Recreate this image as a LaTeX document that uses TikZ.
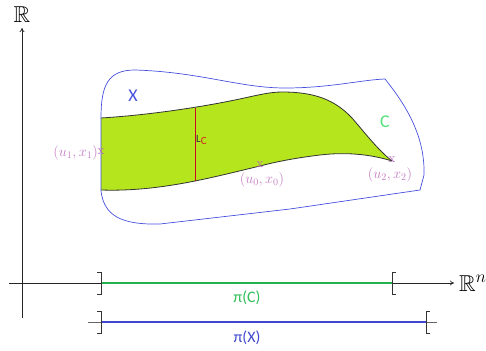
\documentclass[tikz,border=0pt]{standalone}
\usepackage{amsmath,amssymb}
\usepackage{fontspec}
\newfontfamily\labfont{Carlito}
\usetikzlibrary{arrows.meta}
\definecolor{cfill}{RGB}{181,230,29}
\definecolor{xblue}{RGB}{70,80,220}
\definecolor{mpurp}{RGB}{185,100,190}
\definecolor{lpurp}{RGB}{195,125,195}
\definecolor{sgreen}{RGB}{34,177,76}
\definecolor{sblue}{RGB}{63,72,204}
\definecolor{lgreen}{RGB}{80,225,120}
\definecolor{pgreen}{RGB}{50,190,90}
\definecolor{lcred}{RGB}{200,10,40}
\tikzset{
  axis/.style={draw=black!85,line width=0.7pt,-{To[length=4pt,width=5pt]}},
  xbound/.style={draw=xblue,line width=0.7pt},
  cbound/.style={draw=black!80,line width=0.8pt},
  brk/.style={draw=black!80,line width=0.8pt},
  crossm/.style={text=mpurp,font=\fontsize{13}{13}\selectfont,inner sep=0pt},
  mlab/.style={text=lpurp,font=\fontsize{14}{16}\selectfont,inner sep=1pt},
  slab/.style={font=\labfont\fontsize{16}{18}\selectfont,inner sep=1pt},
  blab/.style={font=\labfont\fontsize{18}{20}\selectfont,inner sep=1pt},
  bigR/.style={font=\fontsize{23}{25}\selectfont,inner sep=0pt}
}
\begin{document}
\begin{tikzpicture}[x=1pt,y=-1pt]
\useasboundingbox (0,0) rectangle (486,350);
% axes
\coordinate (vb) at (22,318);
\coordinate (vt) at (22,28);
\coordinate (hl) at (9,283);
\coordinate (hr) at (454,283);
\draw[axis] (vb) -- (vt);
\draw[axis] (hl) -- (hr);
\node[bigR] (Rv) at (22,15) {$\mathbb{R}$};
\node[bigR,anchor=west] (Rn) at (459,283) {$\mathbb{R}^n$};
% region C
\def\ctop{(101,118) .. controls (150,115) and (200,107) .. (230,101) .. controls (255,96) and (268,92) .. (282,92) .. controls (315,92) and (335,100) .. (352,118) .. controls (365,133) and (378,150) .. (392,161)}
\def\cbot{(392,161) .. controls (370,154) and (345,152) .. (320,155) .. controls (295,158) and (275,162) .. (260,166) .. controls (235,172) and (215,177) .. (195,181) .. controls (160,188) and (130,191) .. (101,190)}
\path[fill=cfill] \ctop -- \cbot -- cycle;
\draw[cbound] \ctop;
\draw[cbound] \cbot;
% boundary of X
\draw[xbound] (101,191) -- (101,118) .. controls (101,85) and (108,70) .. (135,70)
  .. controls (200,72) and (240,88) .. (285,88) .. controls (330,88) and (360,80) .. (385,79)
  .. controls (410,110) and (425,140) .. (424,175) -- (420,190) -- (290,209) -- (160,224)
  .. controls (120,225) and (104,215) .. (101,191);
% L_C
\coordinate (lct) at (195,108);
\coordinate (lcb) at (195,181);
\draw[draw=lcred,line width=0.75pt] (lct) -- (lcb);
\node[anchor=west,inner sep=0pt,font=\labfont\fontsize{11}{12}\selectfont] (LC) at (196,140) {\textcolor{black!80}{L}\raisebox{-2.5pt}{\textcolor{lcred!80!orange}{C}}};
% labels X, C
\node[blab,text=xblue] (Xl) at (133,96) {X};
\node[blab,text=lgreen] (Cl) at (385,122) {C};
% points
\node[crossm] (p1) at (101,152) {x};
\node[crossm] (p0) at (260,165) {x};
\node[crossm] (p2) at (392,160) {x};
\node[mlab,anchor=east] (l1) at (99,153) {$(u_1,x_1)$};
\node[mlab] (l0) at (262,180) {$(u_0,x_0)$};
\node[mlab] (l2) at (390,175) {$(u_2,x_2)$};
% projection of C
\coordinate (ca) at (101,283);
\coordinate (cb) at (392,283);
\draw[draw=sgreen,line width=2pt] (ca) -- (cb);
\draw[brk] ([xshift=-4pt,yshift=-11pt]ca) -- ([yshift=-11pt]ca) -- ([yshift=11pt]ca) -- ([xshift=-4pt,yshift=11pt]ca);
\draw[brk] ([xshift=4pt,yshift=-11pt]cb) -- ([yshift=-11pt]cb) -- ([yshift=11pt]cb) -- ([xshift=4pt,yshift=11pt]cb);
\node[slab,text=pgreen] (piC) at (247,298) {π(C)};
% projection of X
\coordinate (gl) at (88,322);
\coordinate (gr) at (437,322);
\coordinate (xa) at (101,322);
\coordinate (xbb) at (426,322);
\draw[draw=black!60,line width=0.8pt] (gl) -- (gr);
\draw[draw=sblue,line width=2pt] (xa) -- (xbb);
\draw[brk] ([xshift=-4pt,yshift=-11pt]xa) -- ([yshift=-11pt]xa) -- ([yshift=11pt]xa) -- ([xshift=-4pt,yshift=11pt]xa);
\draw[brk] ([xshift=4pt,yshift=-11pt]xbb) -- ([yshift=-11pt]xbb) -- ([yshift=11pt]xbb) -- ([xshift=4pt,yshift=11pt]xbb);
\node[slab,text=sblue] (piX) at (247,338) {π(X)};
\end{tikzpicture}
\end{document}
